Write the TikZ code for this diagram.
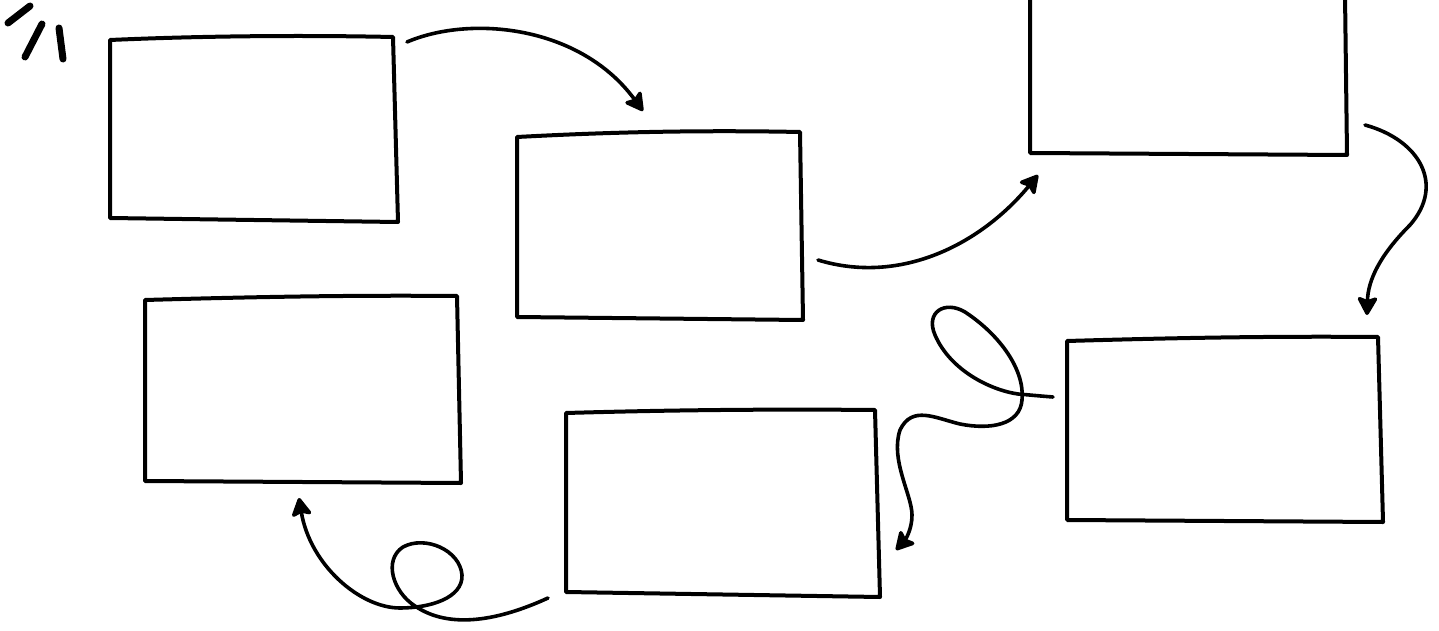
\documentclass[tikz,border=0pt]{standalone}
\usetikzlibrary{arrows.meta}
\begin{document}
\begin{tikzpicture}[x=1pt,y=-1pt,
  ink/.style={line width=4pt,line join=round,line cap=round},
  boxline/.style={ink},
  conn/.style={ink,line width=3.6pt,-{Stealth[length=21pt,width=23pt,inset=4pt,round]}},
  sparkle/.style={line width=7pt,line cap=round}]
\useasboundingbox[fill=white] (0,0) rectangle (1439,631);
% boxes
\draw[boxline] (110,40) .. controls (200,36) and (300,35) .. (393,37) -- (398,222) -- (110,218) -- cycle;
\draw[boxline] (517,137) .. controls (610,132) and (700,130) .. (800,132) -- (803,320) -- (517,317) -- cycle;
\draw[boxline] (1030,-5) -- (1030,153) -- (1347,155) -- (1345,-5);
\draw[boxline] (1067,341) .. controls (1170,338) and (1270,336) .. (1378,337) -- (1383,522) -- (1067,520) -- cycle;
\draw[boxline] (566,413) .. controls (670,410) and (770,409) .. (875,410) -- (880,597) -- (566,592) -- cycle;
\draw[boxline] (145,300) .. controls (250,297) and (350,295) .. (457,296) -- (461,483) -- (145,481) -- cycle;
% connector ends
\coordinate (s1) at (407,42);   \coordinate (e1) at (643,111);
\coordinate (s2) at (818,260);  \coordinate (e2) at (1038,175);
\coordinate (s3) at (1365,125); \coordinate (e3) at (1367,315);
\coordinate (s4) at (1053,397); \coordinate (e4) at (896,550);
\coordinate (s5) at (548,598);  \coordinate (e5) at (299,498);
% connectors
\draw[conn] (s1) .. controls (470,15) and (580,25) .. (e1);
\draw[conn] (s2) .. controls (900,285) and (980,245) .. (e2);
\draw[conn] (s3) .. controls (1420,140) and (1445,185) .. (1410,225)
  .. controls (1380,255) and (1368,280) .. (e3);
\draw[conn] (s4) .. controls (1040,396) and (1030,395) .. (1018,394)
  .. controls (990,390) and (950,370) .. (935,335)
  .. controls (925,312) and (945,300) .. (965,312)
  .. controls (1000,335) and (1025,370) .. (1022,400)
  .. controls (1020,425) and (990,430) .. (960,424)
  .. controls (935,418) and (912,405) .. (900,430)
  .. controls (890,460) and (912,495) .. (912,515)
  .. controls (912,530) and (905,540) .. (e4);
\draw[conn] (s5) .. controls (500,620) and (450,630) .. (415,606)
  .. controls (393,592) and (383,560) .. (403,547)
  .. controls (425,535) and (460,550) .. (462,575)
  .. controls (463,598) and (430,608) .. (400,608)
  .. controls (360,608) and (310,565) .. (e5);
% sparkle marks
\draw[sparkle] (8,23) -- (30,6);
\draw[sparkle] (25,57) -- (42,24);
\draw[sparkle] (59,28) -- (63,59);
\end{tikzpicture}
\end{document}
